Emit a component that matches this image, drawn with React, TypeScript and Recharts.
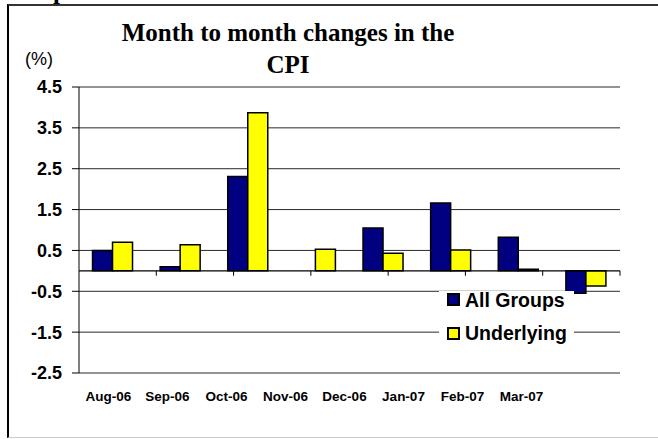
import React from 'react';
import { BarChart, Bar, XAxis, YAxis, CartesianGrid, ReferenceLine, Legend } from 'recharts';

const months = ['Aug-06', 'Sep-06', 'Oct-06', 'Nov-06', 'Dec-06', 'Jan-07', 'Feb-07', 'Mar-07'];
const allGroups = [0.5, 0.1, 2.31, 0, 1.05, 1.66, 0.82, -0.55];
const underlying = [0.7, 0.64, 3.87, 0.53, 0.43, 0.51, 0.04, -0.37];
const yTicks = [-2.5, -1.5, -0.5, 0.5, 1.5, 2.5, 3.5, 4.5];
const seriesNames = ['All Groups', 'Underlying'];
const seriesColors = ['#000080', '#FFFF00'];
const titleLines = ['Month to month changes in the', 'CPI'];
const unitLabel = '(%)';
const cutText = 'p';

const data = months.map((m, i) => ({ month: m, all: allGroups[i], und: underlying[i] }));
const boundaries = months.map((_, i) => i + 1);

const SANS = "Arial, 'Liberation Sans', sans-serif";
const SERIF = "'Times New Roman', 'Liberation Serif', serif";

const LegendContent = (props: any) => {
  const payload = props.payload || [];
  return (
    <div style={{ background: '#fff', width: 135, height: 56.5, boxSizing: 'border-box', paddingLeft: 8 }}>
      {payload.map((p: any, i: number) => (
        <div
          key={i}
          style={{
            display: 'flex',
            alignItems: 'center',
            height: i === 0 ? 18.5 : 22,
            marginTop: i === 0 ? 0 : 13.2,
          }}
        >
          <div
            style={{
              width: 13,
              height: 13,
              boxSizing: 'border-box',
              border: '2px solid #000',
              background: p.color,
              marginRight: 5,
              flex: 'none',
            }}
          />
          <span style={{ fontFamily: SANS, fontWeight: 'bold', fontSize: 19.5, color: '#000', lineHeight: '22px', whiteSpace: 'nowrap' }}>
            {p.value}
          </span>
        </div>
      ))}
    </div>
  );
};

export default function App() {
  return (
    <div style={{ position: 'absolute', left: 0, top: 0, width: 658, height: 439, overflow: 'hidden', background: '#fff' }}>
      <div
        style={{
          position: 'absolute',
          left: 7,
          top: 4,
          width: 700,
          height: 434,
          boxSizing: 'border-box',
          borderLeft: '2px solid #000',
          borderTop: '2px solid #333',
          borderBottom: '1px solid #ccc',
        }}
      />
      <div
        style={{
          position: 'absolute',
          left: 53,
          top: -25,
          fontFamily: SERIF,
          fontWeight: 'bold',
          fontSize: 25,
          lineHeight: '32px',
          color: '#000',
        }}
      >
        {cutText}
      </div>
      <div
        style={{
          position: 'absolute',
          left: 88,
          width: 400,
          top: 17,
          textAlign: 'center',
          fontFamily: SERIF,
          fontWeight: 'bold',
          fontSize: 25,
          lineHeight: '32px',
          color: '#000',
          whiteSpace: 'nowrap',
        }}
      >
        {titleLines[0]}
        <br />
        {titleLines[1]}
      </div>
      <div
        style={{
          position: 'absolute',
          left: 25,
          top: 48.5,
          fontFamily: SANS,
          fontSize: 18,
          lineHeight: '20px',
          color: '#000',
        }}
      >
        {unitLabel}
      </div>
      <div style={{ position: 'absolute', left: 0, top: 0 }}>
        <BarChart
          width={658}
          height={439}
          data={data}
          margin={{ top: 87, right: 38, left: 0, bottom: 30 }}
          barCategoryGap="20%"
          barGap={0}
        >
          <CartesianGrid vertical={false} stroke="#2a2a2a" strokeWidth={1} />
          <XAxis
            xAxisId="lab"
            dataKey="month"
            axisLine={false}
            tickLine={false}
            tickSize={0}
            tickMargin={18}
            padding={{ left: 0, right: 69 }}
            height={36}
            interval={0}
            tick={{ fill: '#000', fontSize: 13.5, fontWeight: 'bold', fontFamily: SANS }}
          />
          <XAxis dataKey="month" hide height={0} />
          <XAxis xAxisId="num" type="number" domain={[0, 8]} hide height={0} allowDataOverflow />
          <YAxis
            type="number"
            domain={[-2.5, 4.5]}
            ticks={yTicks}
            interval={0}
            allowDataOverflow
            width={79}
            tickSize={7}
            tickMargin={10}
            tickFormatter={(v: number) => v.toFixed(1)}
            axisLine={{ stroke: '#000' }}
            tickLine={{ stroke: '#000' }}
            tick={{ fill: '#000', fontSize: 18, fontWeight: 'bold', fontFamily: SANS }}
          />
          <ReferenceLine y={0} stroke="#000" strokeWidth={1.2} />
          {boundaries.map((b) => (
            <ReferenceLine
              key={b}
              xAxisId="num"
              segment={[{ x: b, y: 0 }, { x: b, y: -0.12 }]}
              stroke="#000"
              strokeWidth={1}
            />
          ))}
          <Legend
            layout="vertical"
            align="center"
            verticalAlign="middle"
            content={<LegendContent />}
            wrapperStyle={{ position: 'absolute', left: 439, top: 290.5, width: 135, height: 56.5 }}
          />
          <Bar dataKey="all" name={seriesNames[0]} fill={seriesColors[0]} stroke="#000" strokeWidth={1.5} isAnimationActive={false} />
          <Bar dataKey="und" name={seriesNames[1]} fill={seriesColors[1]} stroke="#000" strokeWidth={1.5} isAnimationActive={false} />
        </BarChart>
      </div>
    </div>
  );
}
